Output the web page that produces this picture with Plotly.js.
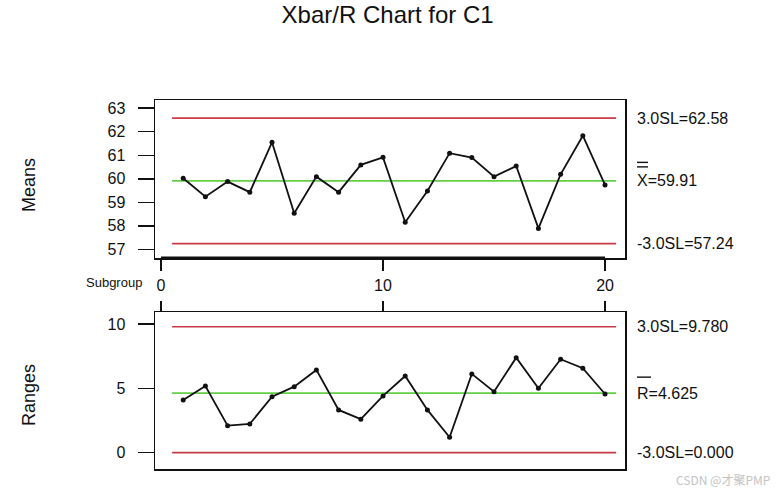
<!DOCTYPE html>
<html>
<head>
<meta charset="utf-8">
<script src="https://cdn.plot.ly/plotly-3.0.1.min.js"></script>
<style>html,body{margin:0;padding:0;background:#fff;}</style>
</head>
<body>
<div id="chart" style="width:780px;height:494px;"></div>
<script>
// ---- Data ----
var subgroups = [1,2,3,4,5,6,7,8,9,10,11,12,13,14,15,16,17,18,19,20];
var means = [60.02,59.24,59.88,59.43,61.55,58.53,60.09,59.43,60.59,60.91,58.15,59.48,61.09,60.90,60.09,60.54,57.89,60.19,61.83,59.74];
var ranges = [4.09,5.18,2.10,2.23,4.35,5.13,6.43,3.32,2.60,4.41,5.96,3.32,1.20,6.12,4.74,7.38,5.00,7.26,6.56,4.56];
var meanUCL = 62.58, meanCL = 59.91, meanLCL = 57.24;
var rangeUCL = 9.780, rangeCL = 4.625, rangeLCL = 0.000;
var limitSpan = [0.5, 20.5];
var xTicks = [0, 10, 20];
var meanTicks = [57, 58, 59, 60, 61, 62, 63];
var rangeTicks = [0, 5, 10];
var titleText = "Xbar/R Chart for C1";
var meanLabels = ["3.0SL=62.58", "X=59.91", "-3.0SL=57.24"];
var rangeLabels = ["3.0SL=9.780", "R=4.625", "-3.0SL=0.000"];

var RED = '#c83a44', GREEN = '#62cf45', FONT = 'Liberation Sans, Arial, sans-serif';

function hline(xa, ya, v, color) {
  return {x: limitSpan, y: [v, v], xaxis: xa, yaxis: ya, mode: 'lines',
          line: {color: color, width: 1.6}, hoverinfo: 'skip', showlegend: false};
}

var traces = [
  hline('x', 'y', meanUCL, RED), hline('x', 'y', meanLCL, RED), hline('x', 'y', meanCL, GREEN),
  hline('x2', 'y2', rangeUCL, RED), hline('x2', 'y2', rangeLCL, RED), hline('x2', 'y2', rangeCL, GREEN),
  {x: subgroups, y: means, xaxis: 'x', yaxis: 'y', mode: 'lines+markers',
   line: {color: '#111', width: 1.8}, marker: {color: '#111', size: 5}, showlegend: false},
  {x: subgroups, y: ranges, xaxis: 'x2', yaxis: 'y2', mode: 'lines+markers',
   line: {color: '#111', width: 1.8}, marker: {color: '#111', size: 5}, showlegend: false}
];

var axFont = {family: FONT, size: 16, color: '#111'};
var lx = 635 / 780;
function rlab(text, yref, yv) {
  return {text: text, xref: 'paper', x: lx, xanchor: 'left', yref: yref, y: yv,
          yanchor: 'middle', showarrow: false, font: axFont};
}
// overbar drawn above a label: pixel offset from the label's data value
function bar(yref, yv, px, x0, x1) {
  return {type: 'line', xref: 'paper', x0: x0/780, x1: x1/780, yref: yref, ysizemode: 'pixel',
          yanchor: yv, y0: px, y1: px, line: {color: '#111', width: 1.4}};
}

var layout = {
  width: 780, height: 494,
  margin: {l: 0, r: 0, t: 0, b: 0},
  paper_bgcolor: '#fff', plot_bgcolor: '#fff',
  font: {family: FONT, color: '#111'},
  title: {text: titleText, x: 0.497, xanchor: 'center', y: 1 - 15/494, yanchor: 'middle',
          font: {family: FONT, size: 24, color: '#111'}},
  showlegend: false,
  xaxis: {domain: [155/780, 625/780], range: [-0.27, 20.9], tickvals: xTicks,
          ticks: 'outside', ticklen: 11, tickwidth: 1.5, tickcolor: '#111',
          showline: true, mirror: true, linecolor: '#111', linewidth: 1.5,
          showgrid: false, zeroline: false, tickfont: axFont, ticklabelstandoff: 1, anchor: 'y'},
  yaxis: {domain: [1 - 258/494, 1 - 100/494], range: [56.63, 63.35], tickvals: meanTicks,
          ticks: 'outside', ticklen: 16, tickwidth: 1.5, tickcolor: '#111',
          showline: true, mirror: true, linecolor: '#111', linewidth: 1.5,
          showgrid: false, zeroline: false, tickfont: axFont, ticklabelstandoff: 9, anchor: 'x'},
  xaxis2: {domain: [155/780, 625/780], range: [-0.27, 20.9], tickvals: xTicks, side: 'top',
          ticks: 'outside', ticklen: 10, tickwidth: 1.5, tickcolor: '#111', showticklabels: false,
          showline: true, mirror: true, linecolor: '#111', linewidth: 1.5,
          showgrid: false, zeroline: false, anchor: 'y2'},
  yaxis2: {domain: [1 - 469/494, 1 - 312/494], range: [-1.27, 10.93], tickvals: rangeTicks,
          ticks: 'outside', ticklen: 16, tickwidth: 1.5, tickcolor: '#111',
          showline: true, mirror: true, linecolor: '#111', linewidth: 1.5,
          showgrid: false, zeroline: false, tickfont: axFont, ticklabelstandoff: 9, anchor: 'x2'},
  shapes: [
    {type: 'line', xref: 'x', yref: 'y domain', x0: xTicks[0], x1: xTicks[xTicks.length-1], y0: 0, y1: 0,
     line: {color: '#111', width: 3}},
    bar('y', meanCL, 14, 637, 648),
    bar('y', meanCL, 18.5, 637, 648),
    bar('y2', rangeCL, 16, 637, 651)
  ],
  annotations: [
    rlab(meanLabels[0], 'y', meanUCL),
    rlab(meanLabels[1], 'y', meanCL),
    rlab(meanLabels[2], 'y', meanLCL),
    rlab(rangeLabels[0], 'y2', rangeUCL),
    rlab(rangeLabels[1], 'y2', rangeCL),
    rlab(rangeLabels[2], 'y2', rangeLCL),
    {text: 'Means', xref: 'paper', yref: 'paper', x: 29/780, y: 1 - 185/494, textangle: -90,
     showarrow: false, xanchor: 'center', yanchor: 'middle', font: {family: FONT, size: 18, color: '#111'}},
    {text: 'Ranges', xref: 'paper', yref: 'paper', x: 29/780, y: 1 - 395/494, textangle: -90,
     showarrow: false, xanchor: 'center', yanchor: 'middle', font: {family: FONT, size: 18, color: '#111'}},
    {text: 'Subgroup', xref: 'paper', yref: 'paper', x: 144/780, y: 1 - 282/494,
     showarrow: false, xanchor: 'right', yanchor: 'middle', font: {family: FONT, size: 13, color: '#111'}},
    {text: 'CSDN @才聚PMP', xref: 'paper', yref: 'paper', x: 772/780, y: 1 - 479/494,
     showarrow: false, xanchor: 'right', yanchor: 'middle',
     font: {family: 'Noto Sans CJK SC, Liberation Sans, sans-serif', size: 12, color: '#c4c4c4'}}
  ]
};

Plotly.newPlot('chart', traces, layout, {displayModeBar: false, staticPlot: true});
</script>
</body>
</html>
